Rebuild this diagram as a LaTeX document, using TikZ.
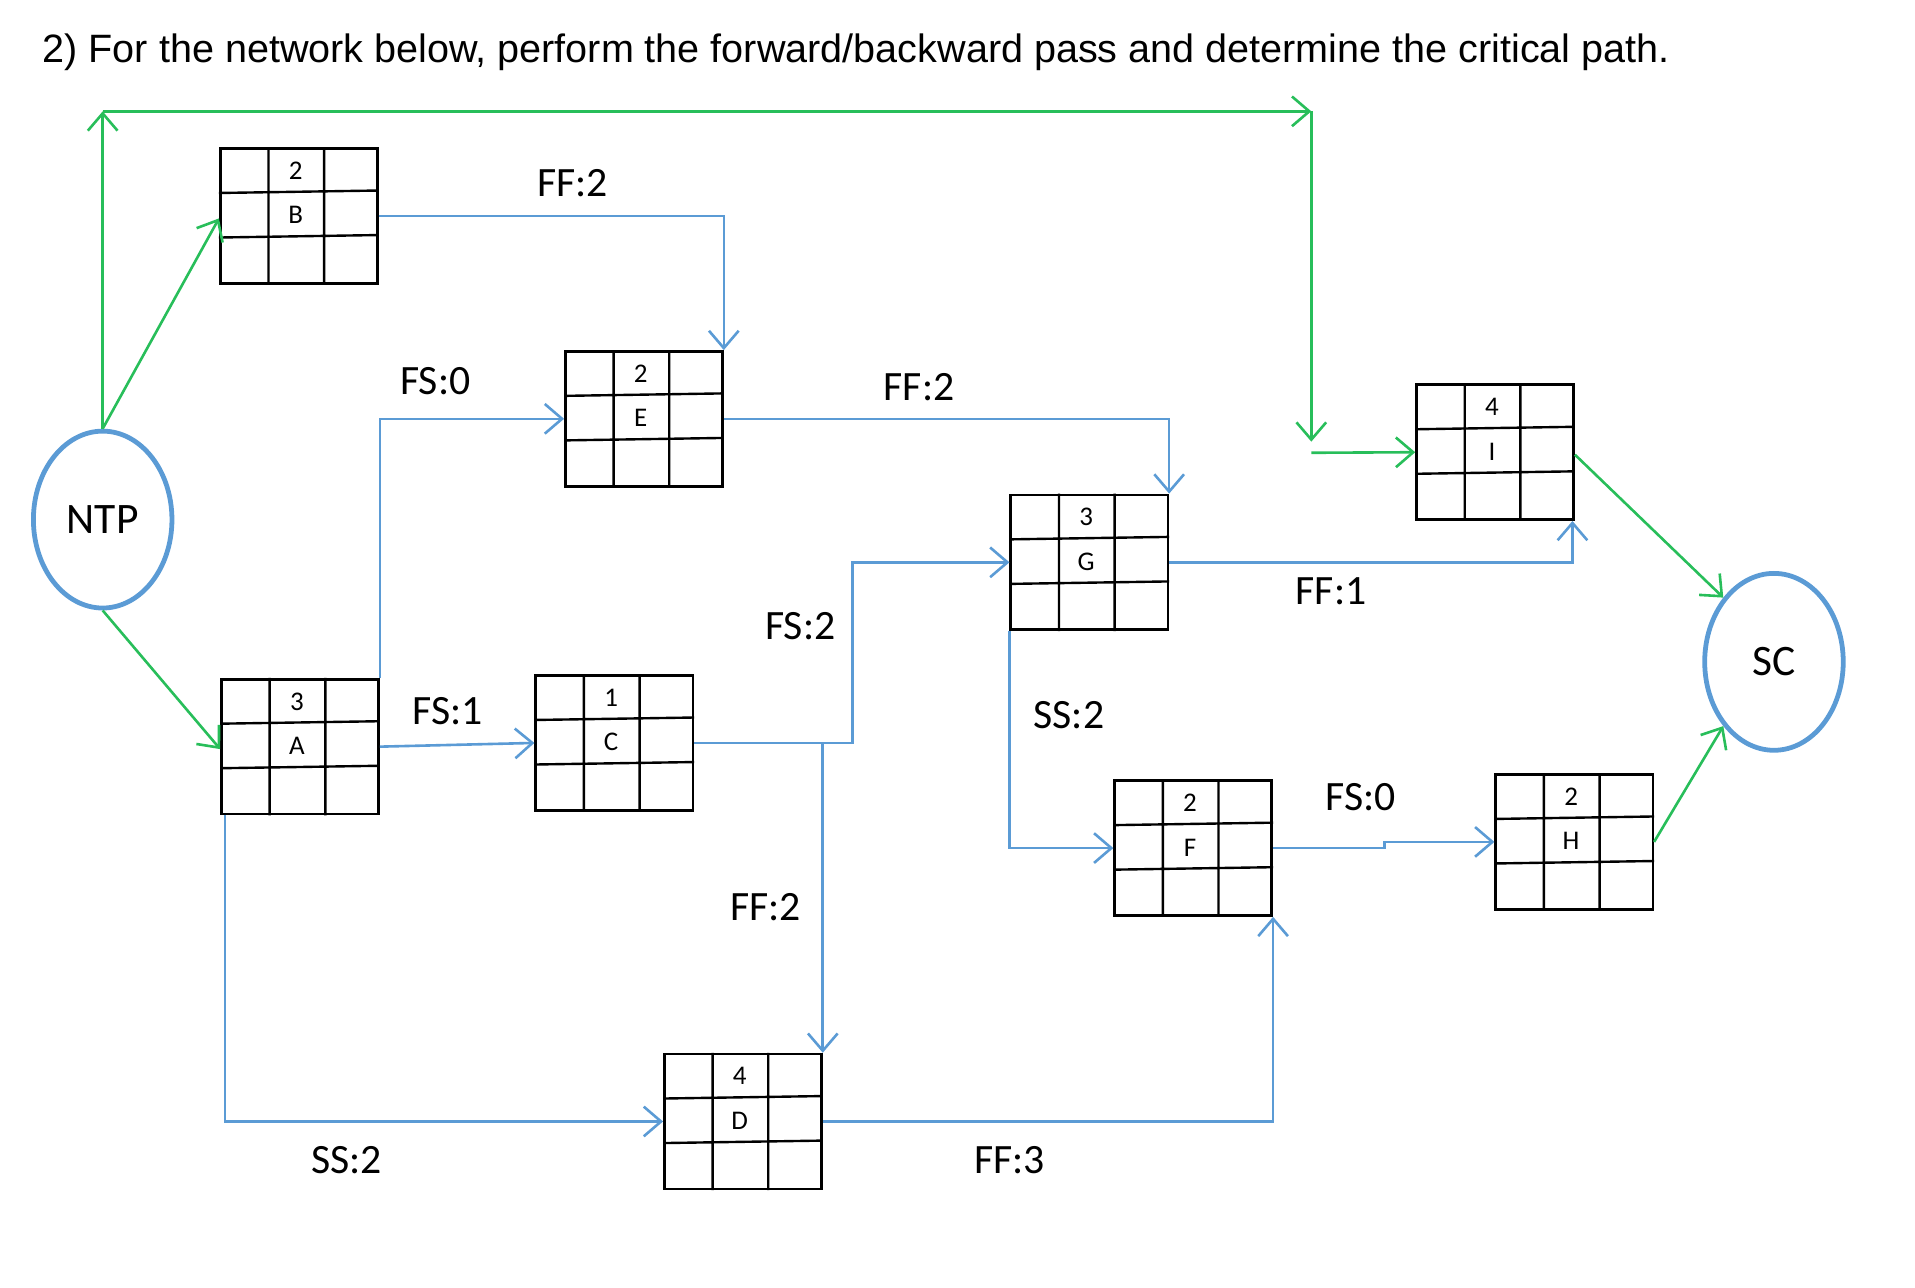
\documentclass[tikz,border=0pt]{standalone}
\usepackage{fontspec}
\setmainfont{Carlito}
\newfontfamily\arialf{Liberation Sans}
\usetikzlibrary{calc,arrows.meta,shapes.geometric}
\begin{document}
\begin{tikzpicture}[x=0.1mm,y=-0.1mm,
  bl/.style={draw={rgb,255:red,91;green,155;blue,213},line width=0.6pt,-{Straight Barb[length=1.4mm,width=2.4mm]}},
  gr/.style={draw={rgb,255:red,40;green,190;blue,90},line width=0.6pt,-{Straight Barb[length=1.4mm,width=2.4mm]}},
  lab/.style={font=\fontsize{9.6pt}{11pt}\selectfont},
  bx/.style={draw,line width=0.6pt,minimum width=12.7mm,minimum height=10.9mm,inner sep=0,anchor=north west},
  ev/.style={draw={rgb,255:red,91;green,155;blue,213},line width=1.1pt,ellipse,inner sep=0,minimum width=11.2mm,minimum height=14.3mm,font=\fontsize{10pt}{12pt}\selectfont}]
\useasboundingbox (0,0) rectangle (1548,1041);
\newcommand\actbox[5]{%
  \node[bx] (#1) at (#2,#3) {};
  \draw[line width=0.55pt] ($(#1.north west)+(40,0)$) -- ($(#1.south west)+(40,0)$)
    ($(#1.north west)+(85,0)$) -- ($(#1.south west)+(85,0)$)
    ($(#1.north west)+(0,37)$) -- ($(#1.north east)+(0,35)$)
    ($(#1.north west)+(0,73)$) -- ($(#1.north east)+(0,71)$);
  \node[font=\fontsize{6.2pt}{8pt}\selectfont] (#1d) at ($(#1.north west)+(62,19)$) {#4};
  \node[font=\fontsize{6.2pt}{8pt}\selectfont] (#1l) at ($(#1.north west)+(62,55)$) {#5};}
\node[anchor=west,font=\arialf\fontsize{9.1pt}{11pt}\selectfont] (title) at (22,42) {2) For the network below, perform the forward/backward pass and determine the critical path.};
\actbox{B}{177}{119}{2}{B}
\actbox{E}{456}{283}{2}{E}
\actbox{A}{178}{548}{3}{A}
\actbox{C}{432}{545}{1}{C}
\actbox{G}{816}{399}{3}{G}
\actbox{I}{1144}{310}{4}{I}
\actbox{F}{900}{630}{2}{F}
\actbox{H}{1208}{625}{2}{H}
\actbox{D}{536}{851}{4}{D}
\node[ev] (NTP) at (83,420) {NTP};
\node[ev] (SC) at (1434,535) {SC};
% green
\coordinate (tl) at (83,90);
\coordinate (tr) at (1060,90);
\coordinate (td) at (1060,357);
\coordinate (ti) at (1060,366);
\draw[gr] (NTP.north) -- ($(B.west)+(0,2)$);
\draw[gr] (NTP.south) -- ($(A.west)+(0,2)$);
\draw[gr] (NTP.north) -- (tl);
\draw[gr] (tl) -- (tr);
\draw[gr] (tr) -- (td);
\draw[gr] (ti) -- (I.west);
\draw[gr] ($(I.east)+(0,2)$) -- (SC.north west);
\draw[gr] ($(H.east)+(0,0)$) -- (SC.south west);
% blue
\draw[bl] (B.east) -| (E.north east);
\draw[bl] (A.north east) |- (E.west);
\draw[bl] (E.east) -| (G.north east);
\draw[bl] (A.east) -- (C.west);
\draw[bl] (C.east) -- ++(128,0) |- (G.west);
\draw[bl] (C.east) -| (D.north east);
\draw[bl] (G.east) -| ($(I.south east)+(-2,0)$);
\draw[bl] (G.south west) |- (F.west);
\draw[bl] (F.east) -- ++(90,0) |- (H.west);
\draw[bl] ($(A.south west)+(4,0)$) |- (D.west);
\draw[bl] (D.east) -| (F.south east);
% labels
\node[lab] (l1) at (463,148) {FF:2};
\node[lab] (l2) at (352,308) {FS:0};
\node[lab] (l3) at (743,313) {FF:2};
\node[lab] (l4) at (362,575) {FS:1};
\node[lab] (l5) at (647,506) {FS:2};
\node[lab] (l6) at (619,733) {FF:2};
\node[lab] (l7) at (1076,478) {FF:1};
\node[lab] (l8) at (864,578) {SS:2};
\node[lab] (l9) at (1100,644) {FS:0};
\node[lab] (l10) at (280,938) {SS:2};
\node[lab] (l11) at (816,938) {FF:3};
\end{tikzpicture}
\end{document}
